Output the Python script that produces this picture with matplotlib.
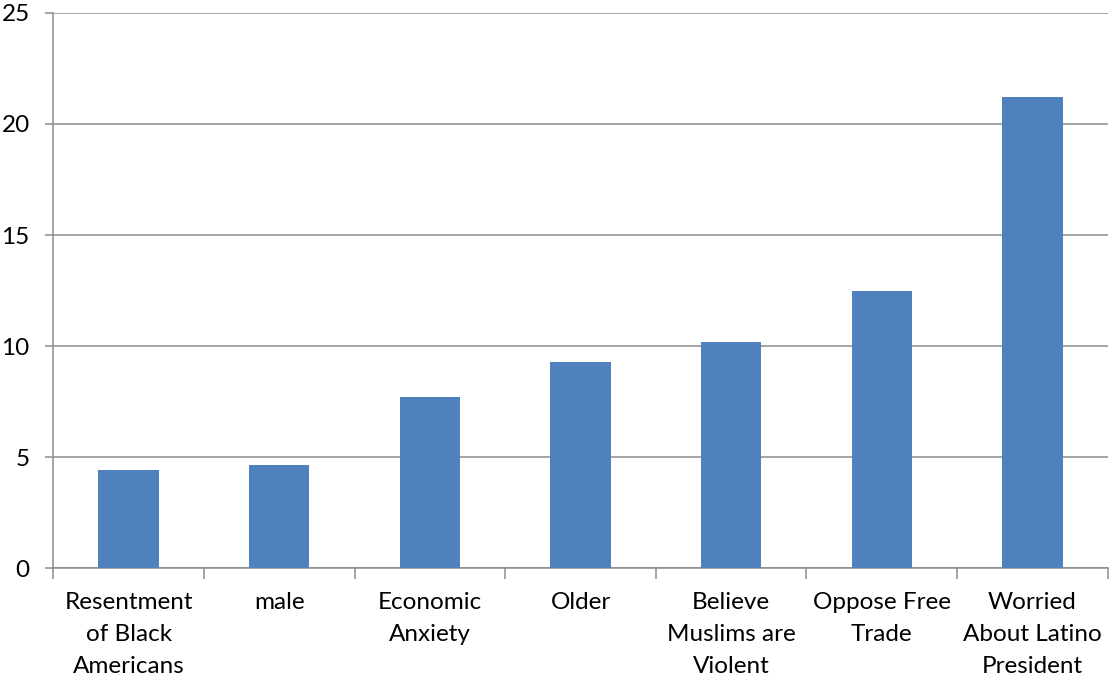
import numpy as np
import matplotlib.pyplot as plt

categories = ["Resentment\nof Black\nAmericans", "male", "Economic\nAnxiety", "Older",
              "Believe\nMuslims are\nViolent", "Oppose Free\nTrade", "Worried\nAbout Latino\nPresident"]
values = [4.42, 4.65, 7.72, 9.3, 10.2, 12.5, 21.2]
yticks = [0, 5, 10, 15, 20, 25]

plt.rcParams['font.family'] = ['Lato', 'DejaVu Sans']

fig = plt.figure(figsize=(11.10, 6.82), dpi=100)
ax = fig.add_axes([0.048, 0.167, 0.95, 0.814])

x = np.arange(len(categories))
ax.bar(x, values, width=0.4, color='#4F81BD', zorder=3)

ax.set_xlim(-0.5, len(categories) - 0.5)
ax.set_ylim(0, 25)
ax.set_yticks(yticks)
ax.set_yticklabels([str(t) for t in yticks])
ax.yaxis.grid(True, color='#8c8c8c', linewidth=1.1, zorder=0)

ax.set_xticks(x)
ax.set_xticklabels(categories, linespacing=1.66)
ax.set_xticks(np.arange(len(categories) + 1) - 0.5, minor=True)
ax.tick_params(axis='x', which='major', length=0, pad=17, labelsize=17.5, colors='black')
ax.tick_params(axis='x', which='minor', length=8, color='#8c8c8c', width=1.1)
ax.tick_params(axis='y', length=6, color='#8c8c8c', width=1.1, pad=11, labelsize=17.5)

for s in ['top', 'right']:
    ax.spines[s].set_visible(False)
ax.spines['left'].set_color('#8c8c8c')
ax.spines['bottom'].set_color('#8c8c8c')
ax.spines['left'].set_linewidth(1.1)
ax.spines['bottom'].set_linewidth(1.1)

fig.savefig('out.png', dpi=100)
